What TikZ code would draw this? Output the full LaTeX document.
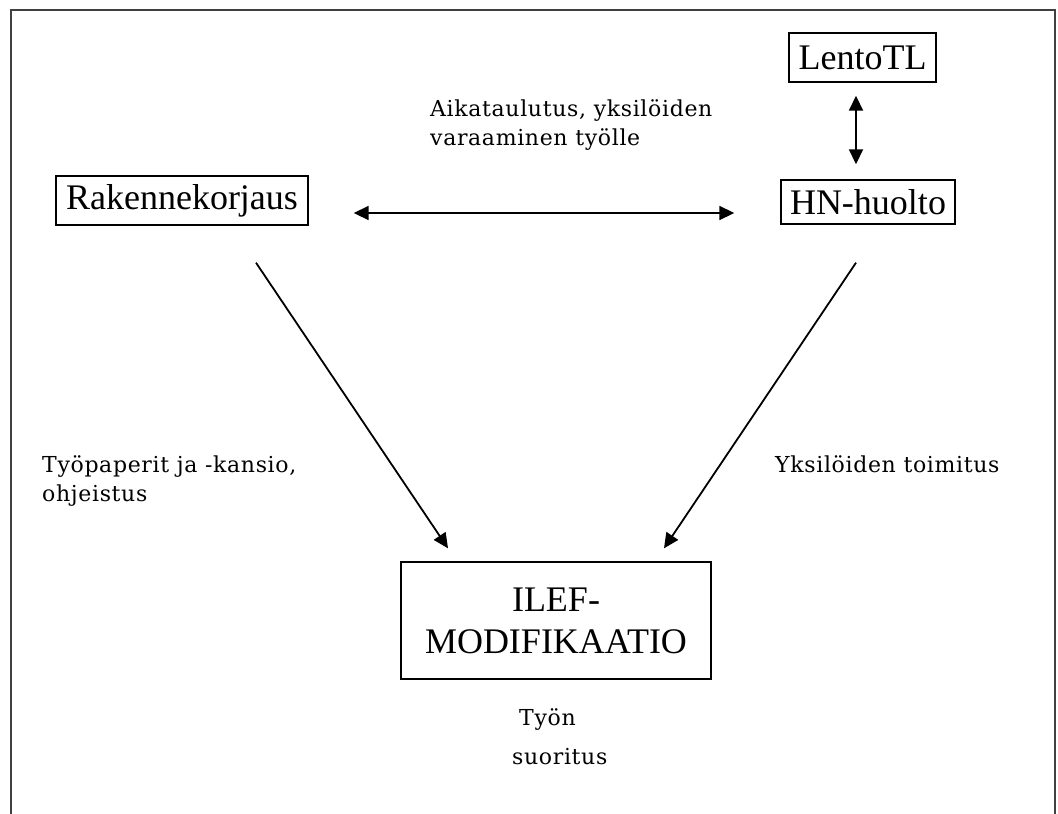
\documentclass[tikz,border=0pt]{standalone}
\usepackage{fontspec}
\setmainfont{Liberation Serif}
\newfontfamily\labelfont[LetterSpace=3]{DejaVu Serif}
\usetikzlibrary{arrows.meta,calc}

\begin{document}
\begin{tikzpicture}[x=1pt,y=-1pt,
  box/.style={draw=black,line width=1.4pt,inner sep=0pt,
    font=\fontsize{36}{42}\selectfont,align=center},
  conn/.style={line width=1.8pt,draw=black},
  tip/.style={-{Triangle[length=15pt,width=14pt]}},
  bitip/.style={{Triangle[length=15pt,width=14pt]}-{Triangle[length=15pt,width=14pt]}},
  lbl/.style={anchor=base west,inner sep=0pt,
    font=\labelfont\fontsize{22}{26}\selectfont}]

  % page area and outer frame (its lower edge lies below the page)
  \useasboundingbox (0,0) rectangle (1058,814);
  \fill[white] (0,0) rectangle (1058,814);
  \draw[line width=2.6pt,black!75] (11,830) -- (11,10) -- (1055,10) -- (1055,830);

  % units
  \node[box,minimum width=252pt,minimum height=49pt] (rak) at (182,200.5) {Rakennekorjaus};
  \node[box,minimum width=147pt,minimum height=49pt] (lento) at (862.5,57.5) {LentoTL};
  \node[box,minimum width=174pt,minimum height=44pt] (hn) at (868,202) {HN-huolto};
  \node[box,minimum width=310pt,minimum height=117pt] (ilef) at (556,620.5) {ILEF-\\MODIFIKAATIO};

  % flows between the units
  \draw[conn,bitip] ($(rak.east)+(45,12.5)$) -- ($(hn.west)+(-46,11)$);
  \draw[conn,bitip] ($(lento.south)+(-6.5,13)$) -- ($(hn.north)+(-12,-15)$);
  \draw[conn,tip] ($(rak.south)+(74,37)$) -- ($(ilef.north)+(-108,-13)$);
  \draw[conn,tip] ($(hn.south)+(-12,38)$) -- ($(ilef.north)+(108,-13)$);

  % flow labels
  \node[lbl] (a1) at (430,116) {Aikataulutus, yksilöiden};
  \node[lbl] (a2) at (430,145) {varaaminen työlle};
  \node[lbl] (t1) at (42,472) {Työpaperit ja -kansio,};
  \node[lbl] (t2) at (42,501) {ohjeistus};
  \node[lbl] (y1) at (775,472) {Yksilöiden toimitus};
  \node[lbl] (s1) at (519,725) {Työn};
  \node[lbl] (s2) at (512,764) {suoritus};
\end{tikzpicture}
\end{document}
